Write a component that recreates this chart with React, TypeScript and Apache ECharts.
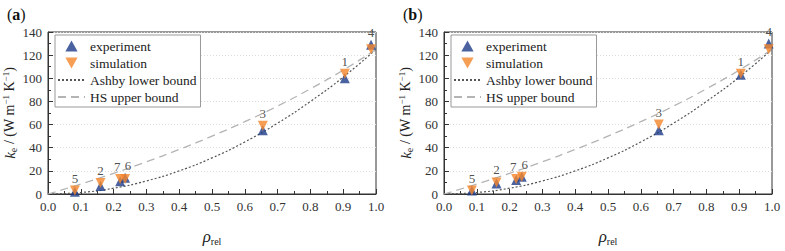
import React, { useEffect, useRef } from "react";
import * as echarts from "echarts";

// Sample numbers for the seven specimens
const sampleIds = ["1", "2", "3", "4", "5", "6", "7"];
// Small horizontal nudges so the close labels 6 and 7 sit side by side
const idNudge = [0, 0, 0, 0, 0, 3, -3];

// Panel (a): relative density, measured and simulated conductivity
const rhoA = [0.905, 0.16, 0.655, 0.985, 0.082, 0.235, 0.22];
const expA = [100, 7, 55, 129, 2, 14, 11];
const simA = [104, 9.5, 59, 125, 3, 13, 13];

// Panel (b)
const rhoB = [0.905, 0.16, 0.655, 0.99, 0.085, 0.237, 0.22];
const expB = [103, 9, 55, 130, 3, 15, 12];
const simB = [104, 10, 60, 125, 3, 15, 13];

// Bound curves (same in both panels)
const boundRho = [0.0, 0.1, 0.2, 0.3, 0.4, 0.5, 0.6, 0.7, 0.8, 0.9, 1.0];
const ashbyLower = [0, 1.3, 5, 11.3, 20, 31.2, 45, 61.2, 80, 101, 125];
const hsUpper = [0, 8.6, 17.9, 27.8, 38.5, 50, 62.5, 76, 90.9, 107, 125];

const xTicks = { min: 0, max: 1, interval: 0.1 };
const yTicks = { min: 0, max: 140, interval: 20 };

const SERIF = "Liberation Serif";
const BLUE = "#1d3b87";
const ORANGE = "#f5862a";
const TRI_UP = "path://M5,0L10,9L0,9Z";
const TRI_DOWN = "path://M0,0L10,0L5,9Z";

function pairs(xs: number[], ys: number[]) {
  return xs.map((x, i) => [x, ys[i]]);
}

function buildPanel(idx: number, rho: number[], exp: number[], sim: number[]) {
  const axisCommon = {
    axisLine: { show: true, lineStyle: { color: "#333", width: 1 } },
    axisTick: { show: true, inside: true, length: 5, lineStyle: { color: "#333" } },
    minorTick: { show: true, splitNumber: 2, length: 3, lineStyle: { color: "#333" } },
    axisLabel: { color: "#333", fontFamily: SERIF, fontSize: 13 },
  };
  const xAxis = {
    type: "value",
    gridIndex: idx,
    ...xTicks,
    ...axisCommon,
    axisLabel: { ...axisCommon.axisLabel, margin: 6, formatter: (v: number) => v.toFixed(1) },
    splitLine: { show: false },
    name: "{i|ρ}{s|rel}",
    nameLocation: "middle",
    nameGap: 33,
    nameTextStyle: {
      rich: {
        i: { fontFamily: SERIF, fontStyle: "italic", fontSize: 17, color: "#222" },
        s: { fontFamily: SERIF, fontSize: 10, color: "#222", padding: [9, 0, 0, 0] },
      },
    },
  };
  const yAxis = {
    type: "value",
    gridIndex: idx,
    ...yTicks,
    ...axisCommon,
    axisLabel: { ...axisCommon.axisLabel, margin: 6 },
    splitLine: { show: true, lineStyle: { color: "#dcdcdc", type: [1, 2], width: 1 } },
    name: "{i|k}{s|e}{t| / (W m}{p|−1}{t| K}{p|−1}{t|)}",
    nameLocation: "middle",
    nameGap: 29,
    nameRotate: 90,
    nameTextStyle: {
      rich: {
        i: { fontFamily: SERIF, fontStyle: "italic", fontSize: 15, color: "#222" },
        s: { fontFamily: SERIF, fontSize: 10, color: "#222", padding: [8, 0, 0, 0] },
        t: { fontFamily: SERIF, fontSize: 14, color: "#222" },
        p: { fontFamily: SERIF, fontSize: 9, color: "#222", padding: [0, 0, 8, 0] },
      },
    },
  };

  const top = exp.map((e, i) => Math.max(e, sim[i]));

  const series = [
    {
      name: "Ashby lower bound",
      type: "line",
      xAxisIndex: idx,
      yAxisIndex: idx,
      data: pairs(boundRho, ashbyLower),
      smooth: true,
      showSymbol: false,
      lineStyle: { color: "#555", width: 1.2, type: [2, 2] },
      itemStyle: { color: "#555" },
      z: 2,
    },
    {
      name: "HS upper bound",
      type: "line",
      xAxisIndex: idx,
      yAxisIndex: idx,
      data: pairs(boundRho, hsUpper),
      smooth: true,
      showSymbol: false,
      lineStyle: { color: "#b4b4b4", width: 1.3, type: [8, 5] },
      itemStyle: { color: "#b4b4b4" },
      z: 2,
    },
    {
      name: "experiment",
      type: "scatter",
      xAxisIndex: idx,
      yAxisIndex: idx,
      data: pairs(rho, exp),
      symbol: "triangle",
      symbolSize: 10,
      itemStyle: { color: BLUE },
      z: 3,
    },
    {
      name: "simulation",
      type: "scatter",
      xAxisIndex: idx,
      yAxisIndex: idx,
      data: pairs(rho, sim),
      symbol: "triangle",
      symbolRotate: 180,
      symbolSize: 10,
      itemStyle: { color: ORANGE },
      z: 4,
    },
    {
      name: "ids",
      type: "scatter",
      xAxisIndex: idx,
      yAxisIndex: idx,
      silent: true,
      data: rho.map((x, i) => ({
        value: [x, top[i]],
        label: { formatter: sampleIds[i], offset: [idNudge[i], 0] },
      })),
      symbol: "rect",
      symbolSize: 10,
      itemStyle: { color: "rgba(0,0,0,0)" },
      label: {
        show: true,
        position: "top",
        distance: 1,
        fontFamily: SERIF,
        fontSize: 13,
        color: "#222",
      },
      z: 5,
    },
  ];
  return { xAxis, yAxis, series };
}

export default function App() {
  const ref = useRef<HTMLDivElement>(null);
  useEffect(() => {
    if (!ref.current) return;
    const chart = echarts.init(ref.current, undefined, { renderer: "svg" });
    const a = buildPanel(0, rhoA, expA, simA);
    const b = buildPanel(1, rhoB, expB, simB);
    const hiddenSymbol = { itemStyle: { opacity: 0 } };
    const legendCommon = {
      orient: "vertical",
      top: 35,
      data: [
        { name: "experiment", icon: TRI_UP },
        { name: "simulation", icon: TRI_DOWN },
        { name: "Ashby lower bound", ...hiddenSymbol },
        { name: "HS upper bound", ...hiddenSymbol },
      ],
      symbolKeepAspect: true,
      borderColor: "#999",
      borderWidth: 1,
      borderRadius: 0,
      padding: [4, 4, 3, 2],
      itemGap: 3,
      itemWidth: 27,
      itemHeight: 11,
      textStyle: { fontFamily: SERIF, fontSize: 13.5, color: "#222" },
      backgroundColor: "#fff",
    };
    const panelLabel = (x: number, letter: string) => ({
      type: "text",
      left: x,
      top: 6,
      style: {
        text: "({b|" + letter + "})",
        fontFamily: SERIF,
        fontSize: 16,
        fill: "#111",
        rich: { b: { fontWeight: "bold", fontSize: 16, fontFamily: SERIF, fill: "#111" } },
      },
    });
    chart.setOption({
      animation: false,
      backgroundColor: "#fff",
      textStyle: { fontFamily: SERIF },
      grid: [
        { left: 48, top: 32, width: 328, height: 172, show: true, borderColor: "#333", borderWidth: 1 },
        { left: 444, top: 32, width: 328, height: 172, show: true, borderColor: "#333", borderWidth: 1 },
      ],
      legend: [
        { ...legendCommon, left: 55 },
        { ...legendCommon, left: 451 },
      ],
      xAxis: [a.xAxis, b.xAxis],
      yAxis: [a.yAxis, b.yAxis],
      series: [...a.series, ...b.series],
      graphic: [panelLabel(7, "a"), panelLabel(403, "b")],
    });
    return () => chart.dispose();
  }, []);
  return (
    <div
      ref={ref}
      style={{ position: "fixed", left: 0, top: 0, width: 785, height: 251, background: "#fff" }}
    />
  );
}
